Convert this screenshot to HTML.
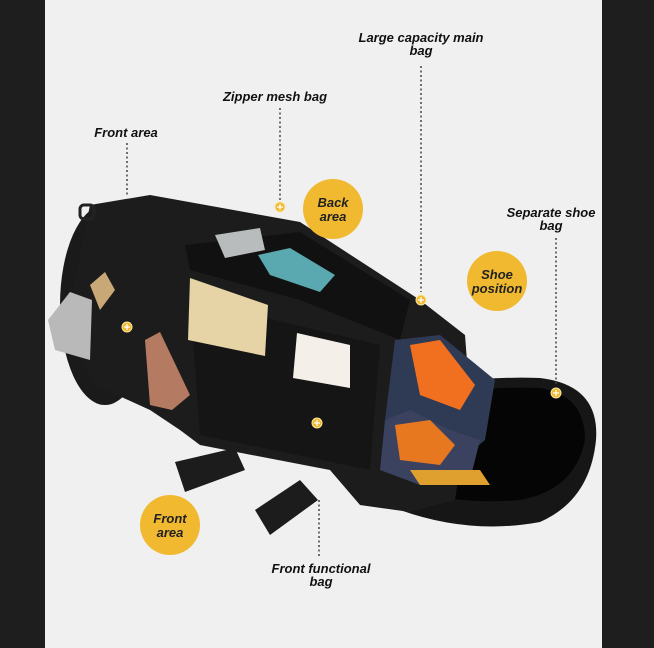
<!DOCTYPE html>
<html><head><style>
html,body{margin:0;padding:0;background:#1e1e1e;}
.w{position:relative;width:654px;height:648px;overflow:hidden;background:#1e1e1e;}
svg{position:absolute;left:0;top:0;}
text{font-family:"Liberation Sans",sans-serif;font-weight:bold;font-style:italic;font-size:13px;fill:#111;}
.c text{font-size:13px;fill:#222;}
</style></head><body><div class="w">
<svg width="654" height="648" viewBox="0 0 654 648">
<rect x="45" y="0" width="557" height="648" fill="#f0f0f0"/>
<!-- shoe bag -->
<path d="M380,400 Q450,375 540,378 Q600,385 596,440 Q590,500 540,522 Q470,535 400,510 Z" fill="#161616"/>
<path d="M400,405 Q470,385 540,388 Q585,395 585,440 Q575,490 520,500 Q460,505 410,490 Z" fill="#050505"/>
<!-- left cylinder -->
<ellipse cx="105" cy="305" rx="45" ry="100" fill="#1a1a1a"/>
<!-- main body -->
<path d="M90,205 L150,195 L300,222 L420,300 L465,335 L470,400 L455,500 L410,512 L360,505 L330,470 L200,445 L180,430 L150,410 L95,385 L65,330 Z" fill="#1c1c1c"/>
<path d="M185,245 L300,232 L410,300 L400,340 L300,300 L190,270 Z" fill="#111"/>
<path d="M190,300 L380,345 L370,470 L200,435 Z" fill="#151515"/>
<!-- bottle -->
<path d="M258,255 L290,248 L335,275 L320,292 L270,275 Z" fill="#5aa8b0"/>
<path d="M215,235 L260,228 L265,250 L225,258 Z" fill="#b8bcbc"/>
<!-- laptop -->
<path d="M48,320 L70,292 L92,300 L90,360 L55,350 Z" fill="#b9b9b9"/>
<!-- patch -->
<path d="M90,285 L105,272 L115,290 L100,310 Z" fill="#c9a878"/>
<!-- notebook -->
<path d="M145,340 L160,332 L190,395 L172,410 L150,405 Z" fill="#b47a62"/>
<!-- tablet -->
<path d="M190,278 L268,305 L265,356 L188,340 Z" fill="#e6d4a6"/>
<!-- phone -->
<path d="M297,333 L350,345 L350,388 L293,378 Z" fill="#f5efe9"/>
<!-- shoes -->
<path d="M395,340 L440,335 L495,380 L485,440 L450,470 L400,460 L385,420 Z" fill="#2f3a55"/>
<path d="M410,345 L440,340 L475,385 L460,410 L420,395 Z" fill="#f07020"/>
<path d="M385,420 L410,410 L450,430 L480,440 L470,480 L420,485 L380,470 Z" fill="#3a4260"/>
<path d="M395,425 L430,420 L455,445 L440,465 L400,460 Z" fill="#e87820"/>
<path d="M410,470 L480,470 L490,485 L420,485 Z" fill="#e0a030"/>
<!-- straps -->
<path d="M175,462 L235,448 L245,470 L185,492 Z" fill="#1c1c1c"/>
<path d="M255,510 L300,480 L318,500 L270,535 Z" fill="#1c1c1c"/>
<rect x="80" y="205" width="14" height="14" rx="4" fill="none" stroke="#222" stroke-width="3"/>
<!-- dotted lines -->
<g stroke="#444" stroke-width="1.5" stroke-dasharray="2,2.5">
<line x1="127" y1="143" x2="127" y2="196"/>
<line x1="280" y1="108" x2="280" y2="200"/>
<line x1="421" y1="66" x2="421" y2="292"/>
<line x1="556" y1="238" x2="556" y2="386"/>
<line x1="319" y1="500" x2="319" y2="558"/>
</g>
<!-- small dots -->
<g fill="#f0b92f" stroke="#f8e6a0" stroke-width="1">
<circle cx="280" cy="207" r="5"/><circle cx="421" cy="300" r="5"/>
<circle cx="127" cy="327" r="5"/><circle cx="556" cy="393" r="5"/>
<circle cx="317" cy="423" r="5"/>
</g>
<g stroke="#fff" stroke-width="1.3">
<path d="M277,207h6M280,204v6"/><path d="M418,300h6M421,297v6"/>
<path d="M124,327h6M127,324v6"/><path d="M553,393h6M556,390v6"/>
<path d="M314,423h6M317,420v6"/>
</g>
<!-- big circles -->
<circle cx="333" cy="209" r="30" fill="#f0b92f"/>
<circle cx="497" cy="281" r="30" fill="#f0b92f"/>
<circle cx="170" cy="525" r="30" fill="#f0b92f"/>
<g class="c" text-anchor="middle">
<text x="333" y="207">Back</text><text x="333" y="221">area</text>
<text x="497" y="279">Shoe</text><text x="497" y="293">position</text>
<text x="170" y="523">Front</text><text x="170" y="537">area</text>
</g>
<g text-anchor="middle">
<text x="421" y="42">Large capacity main</text><text x="421" y="55">bag</text>
<text x="275" y="101">Zipper mesh bag</text>
<text x="126" y="137">Front area</text>
<text x="551" y="217">Separate shoe</text><text x="551" y="230">bag</text>
<text x="321" y="573">Front functional</text><text x="321" y="586">bag</text>
</g>
</svg>
</div></body></html>
